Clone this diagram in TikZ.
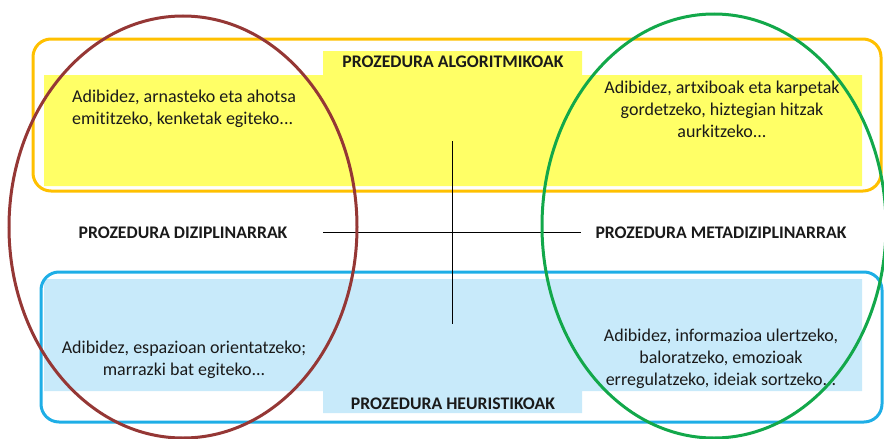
\documentclass[tikz,border=0pt]{standalone}
\usepackage{fontspec}
\setmainfont[Ligatures=NoCommon]{Carlito}
\usetikzlibrary{positioning, shapes.geometric}
\definecolor{colorFrameA}{HTML}{FFC000}
\definecolor{colorFillA}{HTML}{FFFF66}
\definecolor{colorFrameH}{HTML}{1EAEE6}
\definecolor{colorFillH}{HTML}{C8EAFA}
\definecolor{colorDisc}{HTML}{953735}
\definecolor{colorMeta}{HTML}{12A84A}
\definecolor{colorText}{HTML}{1A1A1A}

\begin{document}
\begin{tikzpicture}[x=1pt, y=-1pt]

  \tikzstyle{frame} = [%
  line width=3pt,
  rounded corners=18pt,
  ];

  \tikzstyle{title} = [%
  font=\fontsize{17.7}{20}\selectfont\bfseries,
  inner sep=0pt,
  text=colorText,
  ];

  \tikzstyle{example} = [%
  align=center,
  font=\fontsize{18}{22}\selectfont,
  inner sep=0pt,
  text=colorText,
  ];

  \tikzstyle{group} = [%
  line width=3pt,
  ];

  \useasboundingbox (0,0) rectangle (884,439);

  % algoritmikoak band
  \fill[colorFillA] (44,75) -- (323,75) -- (323,51) -- (582,51) -- (582,75)
    -- (862,75) -- (862,186) -- (44,186) -- cycle;
  \draw[frame, colorFrameA] (33,39) rectangle (881,191);

  % heuristikoak band
  \fill[colorFillH] (44,279) -- (862,279) -- (862,391) -- (582,391)
    -- (582,413) -- (323,413) -- (323,391) -- (44,391) -- cycle;
  \draw[frame, colorFrameH] (41,272) rectangle (882,422);

  \node[title] (algoritmikoak) at (453,62) {PROZEDURA ALGORITMIKOAK};
  \node[title] (heuristikoak) at (453,404) {PROZEDURA HEURISTIKOAK};
  \node[title] (diziplinarrak) at (183,233) {PROZEDURA DIZIPLINARRAK};
  \node[title] (metadiziplinarrak) at (721,233) {PROZEDURA METADIZIPLINARRAK};

  \node[example, align=left, anchor=west] (exAD) at (72,108.5)
    {Adibidez, arnasteko eta ahotsa\\emititzeko, kenketak egiteko...};
  \node[example] (exAM) at (722,109.5)
    {Adibidez, artxiboak eta karpetak\\gordetzeko, hiztegian hitzak\\aurkitzeko...};
  \node[example] (exHD) at (184,360)
    {Adibidez, espazioan orientatzeko;\\marrazki bat egiteko...};
  \node[example] (exHM) at (721,359)
    {Adibidez, informazioa ulertzeko,\\baloratzeko, emozioak\\erregulatzeko, ideiak sortzeko...};

  % axes
  \coordinate (axisN) at (452,141);
  \coordinate (axisS) at (452,324);
  \coordinate (axisW) at (323,232);
  \coordinate (axisE) at (581,232);
  \draw[thin] (axisN) -- (axisS);
  \draw[thin] (axisW) -- (axisE);

  % groups
  \draw[group, colorDisc] (183,227) ellipse [x radius=174pt, y radius=211pt];
  \draw[group, colorMeta] (714,226) ellipse [x radius=172pt, y radius=212pt];

\end{tikzpicture}
\end{document}
